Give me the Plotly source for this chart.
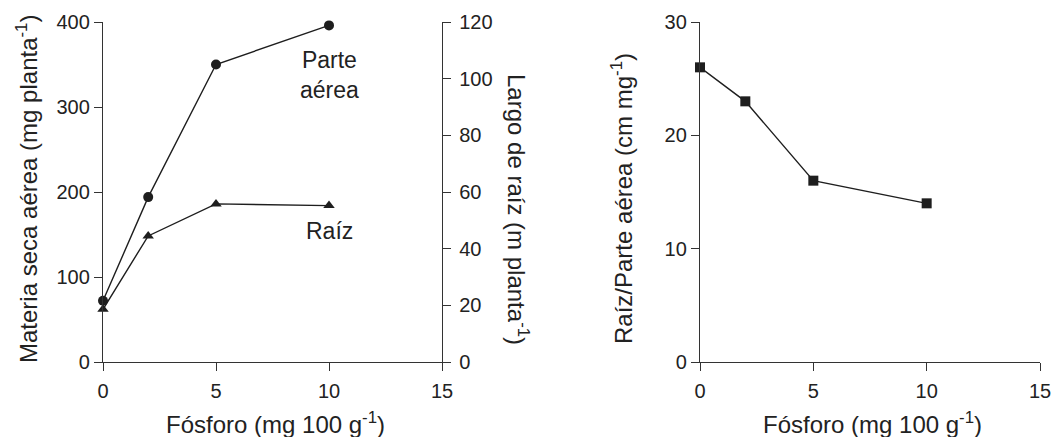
import plotly.graph_objects as go

# ---- data ----
fosforo = [0, 2, 5, 10]
parte_aerea = [72, 194, 350, 396]          # mg planta-1 (left axis)
largo_raiz = [18.6, 44.5, 55.8, 55.2]      # m planta-1 (right axis)
raiz_parte = [26, 23, 16, 14]              # cm mg-1

x_ticks = [0, 5, 10, 15]
y1_ticks = [0, 100, 200, 300, 400]
y2_ticks = [0, 20, 40, 60, 80, 100, 120]
y3_ticks = [0, 10, 20, 30]

W, H = 1056, 437
INK = "#1e1e1e"
AX = "#333333"
FONT = "Liberation Sans, Arial, sans-serif"

def px(x):
    return x / W

def py(y):
    return 1 - y / H

fig = go.Figure()

fig.add_trace(go.Scatter(
    x=fosforo, y=parte_aerea, mode="lines+markers", xaxis="x", yaxis="y",
    line=dict(color=INK, width=1.4),
    marker=dict(symbol="circle", size=10, color=INK),
    cliponaxis=False, showlegend=False))

fig.add_trace(go.Scatter(
    x=fosforo, y=largo_raiz, mode="lines+markers", xaxis="x", yaxis="y2",
    line=dict(color=INK, width=1.4),
    marker=dict(symbol="triangle-up", size=10, color=INK),
    cliponaxis=False, showlegend=False))

fig.add_trace(go.Scatter(
    x=fosforo, y=raiz_parte, mode="lines+markers", xaxis="x2", yaxis="y3",
    line=dict(color=INK, width=1.4),
    marker=dict(symbol="square", size=10, color=INK),
    cliponaxis=False, showlegend=False))

tickfont = dict(family=FONT, size=20, color="#222222")
common_axis = dict(showgrid=False, zeroline=False, showline=True, linecolor=AX,
                   linewidth=1.3, ticks="outside", ticklen=8, tickwidth=1.3,
                   tickcolor=AX, tickfont=tickfont, automargin=False)

dom_y = [py(362), py(22)]

fig.update_layout(
    width=W, height=H,
    margin=dict(l=0, r=0, t=0, b=0),
    paper_bgcolor="white", plot_bgcolor="white",
    font=dict(family=FONT, color="#222222"),
    xaxis=dict(domain=[px(103), px(442)], range=[0, 15], tickvals=x_ticks,
               anchor="y", ticklabelstandoff=3, **common_axis),
    yaxis=dict(domain=dom_y, range=[0, 400], tickvals=y1_ticks, anchor="x",
               **common_axis),
    yaxis2=dict(range=[0, 120], tickvals=y2_ticks, overlaying="y", side="right",
                anchor="x", ticklabelstandoff=4, **common_axis),
    xaxis2=dict(domain=[px(700), px(1040)], range=[0, 15], tickvals=x_ticks,
                anchor="y3", ticklabelstandoff=3, **common_axis),
    yaxis3=dict(domain=dom_y, range=[0, 30], tickvals=y3_ticks, anchor="x2",
                **common_axis),
)

tfont = dict(family=FONT, size=24, color="#222222")
lfont = dict(family=FONT, size=23, color="#222222")

annotations = [
    dict(text="Materia seca aérea (mg planta<sup>-1</sup>)", x=px(27), y=py(189),
         xref="paper", yref="paper", textangle=-90, showarrow=False, font=tfont,
         xanchor="center", yanchor="middle"),
    dict(text="Largo de raíz (m planta<sup>-1</sup>)", x=px(518), y=py(209),
         xref="paper", yref="paper", textangle=90, showarrow=False, font=tfont,
         xanchor="center", yanchor="middle"),
    dict(text="Raíz/Parte aérea (cm mg<sup>-1</sup>)", x=px(622), y=py(199),
         xref="paper", yref="paper", textangle=-90, showarrow=False, font=tfont,
         xanchor="center", yanchor="middle"),
    dict(text="Fósforo (mg 100 g<sup>-1</sup>)", x=px(275), y=py(423),
         xref="paper", yref="paper", showarrow=False, font=tfont,
         xanchor="center", yanchor="middle"),
    dict(text="Fósforo (mg 100 g<sup>-1</sup>)", x=px(872), y=py(423),
         xref="paper", yref="paper", showarrow=False, font=tfont,
         xanchor="center", yanchor="middle"),
    dict(text="Parte<br>aérea", x=10, y=338, xref="x", yref="y", showarrow=False,
         font=lfont, xanchor="center", yanchor="middle"),
    dict(text="Raíz", x=10, y=154, xref="x", yref="y", showarrow=False,
         font=lfont, xanchor="center", yanchor="middle"),
]
fig.update_layout(annotations=annotations)

fig.write_html(
    "out.html",
    config={"displayModeBar": False},
    post_script="document.body.style.margin='0';document.body.style.overflow='hidden';",
)
